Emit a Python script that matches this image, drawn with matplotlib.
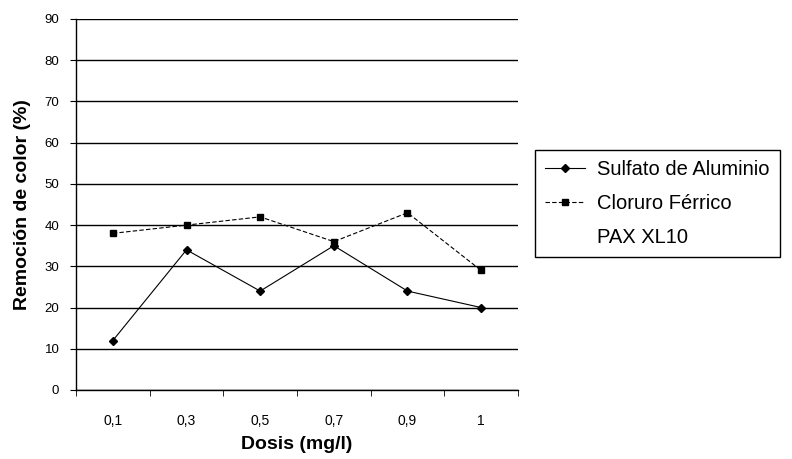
import numpy as np
import matplotlib
matplotlib.use("Agg")
from matplotlib import pyplot as plt
from matplotlib.ticker import FixedLocator

# data
dosis = ["0,1", "0,3", "0,5", "0,7", "0,9", "1"]
sulfato = [12, 34, 24, 35, 24, 20]
cloruro = [38, 40, 42, 36, 43, 29]
pax = []  # no visible points for PAX XL10

y_ticks = [0, 10, 20, 30, 40, 50, 60, 70, 80, 90]

plt.rcParams["font.family"] = ["Liberation Sans", "DejaVu Sans"]

fig = plt.figure(figsize=(7.92, 4.59), dpi=100)
ax = fig.add_axes([76 / 792, 1 - 390 / 459, (518 - 76) / 792, (390 - 19) / 459])

x = np.arange(len(dosis))
ax.plot(x, sulfato, color="black", lw=0.8, marker="D", markersize=4,
        label="Sulfato de Aluminio", zorder=3)
ax.plot(x, cloruro, color="black", lw=0.8, linestyle=(0, (4, 2)), marker="s",
        markersize=5, label="Cloruro Férrico", zorder=3)
ax.plot(np.arange(len(pax)), pax, linestyle="none", label="PAX XL10")

ax.set_xlim(-0.5, len(dosis) - 0.5)
ax.set_ylim(0, 90)
ax.set_yticks(y_ticks)
ax.set_xticks(x)
ax.set_xticklabels(dosis, fontsize=10)
ax.xaxis.set_minor_locator(FixedLocator(np.arange(-0.5, len(dosis), 1.0)))
ax.tick_params(axis="x", which="major", length=0, pad=17)
ax.tick_params(axis="x", which="minor", length=4, direction="out", color="black")
ax.tick_params(axis="y", labelsize=9.5, length=4, direction="out", pad=8)

ax.yaxis.grid(True, color="black", lw=1.0)
ax.set_axisbelow(True)
for s in ["top", "right"]:
    ax.spines[s].set_visible(False)
ax.spines["bottom"].set_linewidth(1.0)
ax.spines["left"].set_linewidth(1.0)

ax.set_ylabel("Remoción de color (%)", fontsize=14, fontweight="bold", labelpad=10)
ax.set_xlabel("Dosis (mg/l)", fontsize=14, fontweight="bold", labelpad=6)

leg = ax.legend(loc="upper left", bbox_to_anchor=(535 / 792, 1 - 150 / 459),
                bbox_transform=fig.transFigure, fontsize=14.5, frameon=True,
                fancybox=False, edgecolor="black", framealpha=1,
                labelspacing=0.75, handlelength=2.0, handletextpad=0.6,
                borderpad=0.5, borderaxespad=0)
leg.get_frame().set_linewidth(1.0)

fig.savefig("out.png", dpi=100)
